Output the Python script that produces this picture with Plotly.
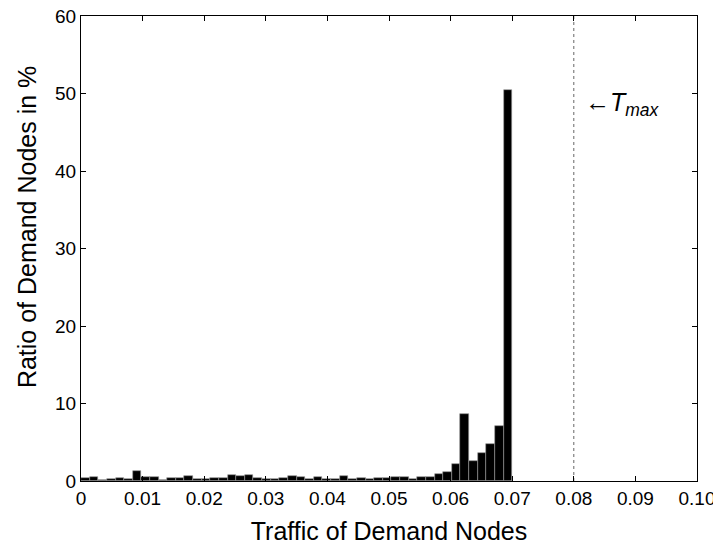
import numpy as np
import plotly.graph_objects as go

# Histogram: 50 bins over [0, 0.07]
bin_start = 0.0
bin_end = 0.07
n_bins = 50
ratio_percent = [
    0.43, 0.56, 0.13, 0.26, 0.34, 0.26, 1.30, 0.52, 0.47, 0.13,
    0.43, 0.39, 0.65, 0.30, 0.25, 0.34, 0.39, 0.73, 0.70, 0.82,
    0.34, 0.22, 0.22, 0.34, 0.60, 0.50, 0.26, 0.50, 0.22, 0.26,
    0.65, 0.30, 0.43, 0.30, 0.43, 0.43, 0.52, 0.56, 0.26, 0.50,
    0.56, 0.90, 1.12, 2.20, 8.60, 2.60, 3.65, 4.80, 7.10, 50.4,
]
t_max = 0.08

x_tickvals = [0, 0.01, 0.02, 0.03, 0.04, 0.05, 0.06, 0.07, 0.08, 0.09, 0.10]
x_ticktext = ["0", "0.01", "0.02", "0.03", "0.04", "0.05", "0.06", "0.07", "0.08", "0.09", "0.10"]
y_tickvals = [0, 10, 20, 30, 40, 50, 60]

width = (bin_end - bin_start) / n_bins
centers = bin_start + width * (np.arange(n_bins) + 0.5)

font_family = "Liberation Sans, Arial, Helvetica, sans-serif"

fig = go.Figure()
fig.add_trace(go.Bar(
    x=centers, y=ratio_percent, width=width,
    marker=dict(color="black", line=dict(color="#9a9a9a", width=0.6)),
    showlegend=False, hoverinfo="x+y",
))
fig.add_trace(go.Scatter(
    x=[t_max, t_max], y=[0, 60], mode="lines",
    line=dict(color="#666666", width=1, dash="dot"),
    showlegend=False, hoverinfo="skip",
))
fig.add_annotation(
    x=t_max, y=48.6, xref="x", yref="y",
    text="\u2190<i>T<sub>max</sub></i>", showarrow=False,
    xanchor="left", yanchor="middle", xshift=9,
    font=dict(family=font_family, size=25, color="black"),
)
# y-axis title (placed as in the reference, slightly above centre)
fig.add_annotation(
    x=0, y=0.546, xref="paper", yref="paper",
    text="Ratio of Demand Nodes in %", showarrow=False, textangle=-90,
    xanchor="center", yanchor="middle", xshift=-54,
    font=dict(family=font_family, size=25, color="black"),
)

axis_common = dict(
    showline=True, linecolor="black", linewidth=1, mirror="ticks",
    ticks="inside", ticklen=5, tickcolor="black", tickwidth=1,
    showgrid=False, zeroline=False, automargin=False,
    ticklabeloverflow="allow",
    tickfont=dict(family=font_family, size=19, color="black"),
)
fig.update_xaxes(
    range=[0, 0.1], tickvals=x_tickvals, ticktext=x_ticktext,
    title=dict(text="Traffic of Demand Nodes", font=dict(family=font_family, size=25, color="black"), standoff=14),
    **axis_common,
)
fig.update_yaxes(
    range=[0, 60], tickvals=y_tickvals,
    **axis_common,
)
fig.update_layout(
    width=721, height=550,
    margin=dict(l=73, r=32, t=8, b=77, pad=0),
    plot_bgcolor="white", paper_bgcolor="white",
    bargap=0,
)
fig.write_html("out.html")
